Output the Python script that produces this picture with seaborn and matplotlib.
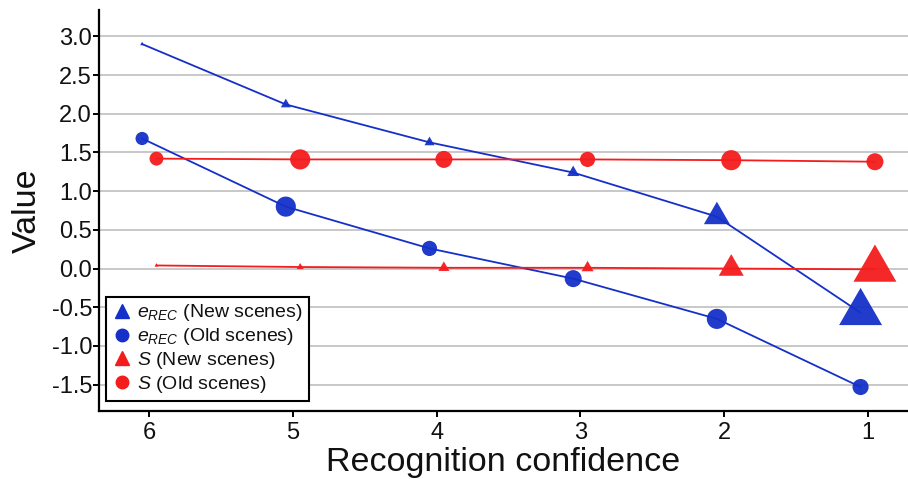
import numpy as np
import pandas as pd
import matplotlib
matplotlib.use("Agg")
import matplotlib.pyplot as plt
from matplotlib.lines import Line2D
from matplotlib.path import Path
import seaborn as sns

# Recognition confidence levels (6 = most confident "old", 1 = most confident "new")
confidence = [6, 5, 4, 3, 2, 1]

# Parameter estimates per confidence level
erec_new = [2.90, 2.12, 1.63, 1.24, 0.67, -0.57]
erec_old = [1.68, 0.80, 0.26, -0.13, -0.65, -1.53]
s_new = [0.04, 0.02, 0.01, 0.01, 0.00, -0.01]
s_old = [1.42, 1.41, 1.41, 1.41, 1.40, 1.38]

# Number of observations behind each estimate (drives marker area)
n_erec_new = [11, 69, 69, 100, 467, 1277]
n_erec_old = [90, 210, 120, 150, 210, 135]
n_s_new = [11, 34, 84, 100, 432, 1277]
n_s_old = [100, 210, 150, 120, 210, 150]

series_labels = [
    r"$e_{REC}$ (New scenes)",
    r"$e_{REC}$ (Old scenes)",
    r"$S$ (New scenes)",
    r"$S$ (Old scenes)",
]

sns.set_theme(style="white")
plt.rcParams["font.family"] = ["Liberation Sans", "DejaVu Sans"]
plt.rcParams["mathtext.fontset"] = "custom"
plt.rcParams["mathtext.it"] = "Liberation Sans:italic"
plt.rcParams["mathtext.rm"] = "Liberation Sans"
plt.rcParams["axes.unicode_minus"] = False

BLUE = "#1530c8"
RED = "#f41c1c"

# equilateral triangle centred on its centroid
h = np.sqrt(3) / 2
TRI = Path([(0, 2 * h / 3), (-0.5, -h / 3), (0.5, -h / 3), (0, 2 * h / 3)],
           [Path.MOVETO, Path.LINETO, Path.LINETO, Path.CLOSEPOLY])

frames = []
for label, vals, n, measure in [
    (series_labels[0], erec_new, n_erec_new, "eREC"),
    (series_labels[1], erec_old, n_erec_old, "eREC"),
    (series_labels[2], s_new, n_s_new, "S"),
    (series_labels[3], s_old, n_s_old, "S"),
]:
    frames.append(pd.DataFrame({
        "confidence": confidence,
        "value": vals,
        "n": n,
        "series": label,
        "measure": measure,
    }))
df = pd.concat(frames, ignore_index=True)
# small horizontal dodge so the two measures don't overlap
df["xpos"] = df["confidence"] + np.where(df["measure"] == "eREC", 0.05, -0.05)

palette = {series_labels[0]: BLUE, series_labels[1]: BLUE,
           series_labels[2]: RED, series_labels[3]: RED}
markers = {series_labels[0]: TRI, series_labels[1]: "o",
           series_labels[2]: TRI, series_labels[3]: "o"}

fig = plt.figure(figsize=(9.08, 4.79), dpi=100)
ax = fig.add_axes([99 / 908, 1 - 411 / 479, 809 / 908, 401 / 479])

ax.yaxis.grid(True, color="#c4c4c4", linewidth=1.3)
ax.set_axisbelow(True)

sns.lineplot(data=df, x="xpos", y="value", hue="series", palette=palette,
             linewidth=1.3, legend=False, ax=ax, sort=True, estimator=None)
sns.scatterplot(data=df, x="xpos", y="value", hue="series", style="series",
                markers=markers, palette=palette, size="n",
                sizes=(0, 1300), size_norm=(0, 1300),
                linewidth=0, alpha=0.95, legend=False, ax=ax, zorder=3)

ax.set_xlim(6.35, 0.72)
ax.set_ylim(-1.84, 3.34)
ax.set_xticks(confidence)
ax.set_xticklabels([str(c) for c in confidence])
yt = [3.0, 2.5, 2.0, 1.5, 1.0, 0.5, 0.0, -0.5, -1.0, -1.5]
ax.set_yticks(yt)
ax.set_yticklabels([f"{v:.1f}" for v in yt])

for side in ["top", "right"]:
    ax.spines[side].set_visible(False)
for side in ["left", "bottom"]:
    ax.spines[side].set_color("black")
    ax.spines[side].set_linewidth(1.6)
ax.tick_params(axis="both", direction="out", length=4, width=1.4,
               color="black", labelsize=17, labelcolor="#111111", pad=1,
               bottom=True, left=True)
ax.tick_params(axis="x", pad=4)

ax.set_xlabel("Recognition confidence", fontsize=24.5, labelpad=2,
              color="#111111")
ax.set_ylabel("Value", fontsize=24.5, labelpad=6, color="#111111")

handles = [
    Line2D([], [], linestyle="none", marker="^", markersize=10, color=BLUE),
    Line2D([], [], linestyle="none", marker="o", markersize=9, color=BLUE),
    Line2D([], [], linestyle="none", marker="^", markersize=10, color=RED),
    Line2D([], [], linestyle="none", marker="o", markersize=9, color=RED),
]
leg = ax.legend(handles, series_labels, loc="lower left",
                bbox_to_anchor=(0.009, 0.025), fontsize=14,
                frameon=True, fancybox=False, framealpha=1,
                edgecolor="black", handlelength=1.0, handletextpad=0.3,
                labelspacing=0.15, borderpad=0.3, borderaxespad=0)
leg.get_frame().set_linewidth(1.5)
for t in leg.get_texts():
    t.set_color("#111111")

fig.savefig("out.png", dpi=100)
